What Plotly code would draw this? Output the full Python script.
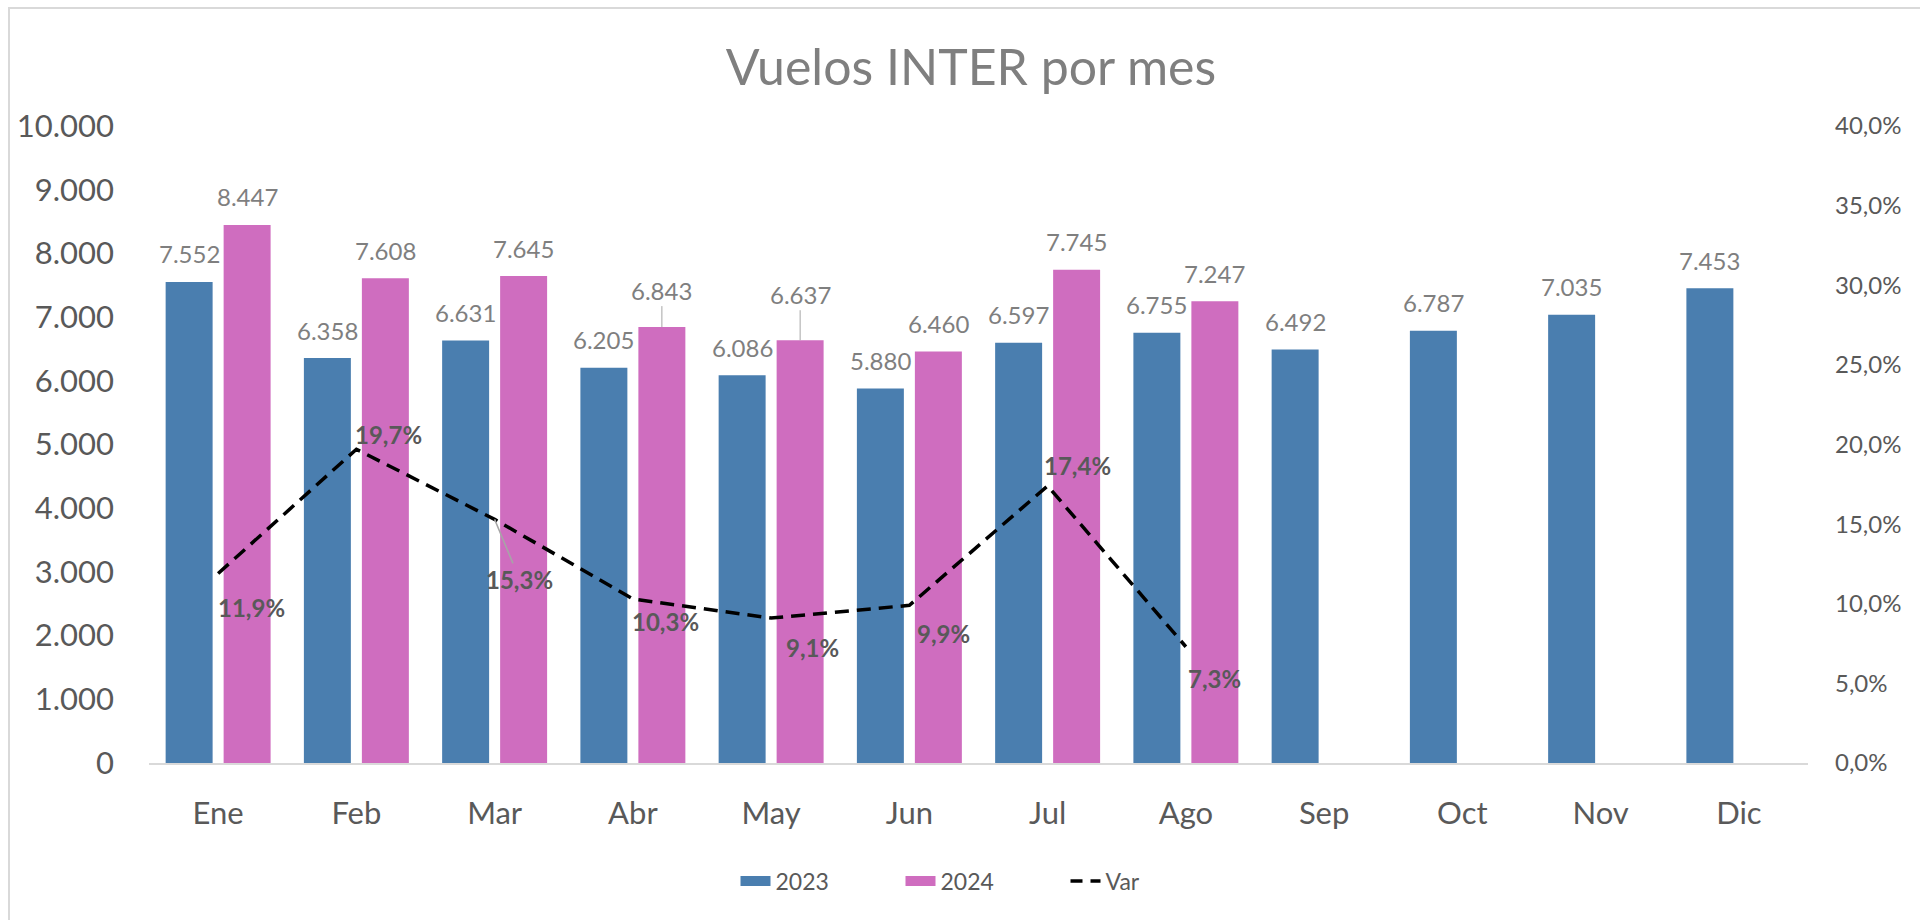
import plotly.graph_objects as go

meses = ["Ene", "Feb", "Mar", "Abr", "May", "Jun", "Jul", "Ago", "Sep", "Oct", "Nov", "Dic"]
v2023 = [7552, 6358, 6631, 6205, 6086, 5880, 6597, 6755, 6492, 6787, 7035, 7453]
v2024 = [8447, 7608, 7645, 6843, 6637, 6460, 7745, 7247]
var = [0.119, 0.197, 0.153, 0.103, 0.091, 0.099, 0.174, 0.073]

BLUE = "#4A7EAF"
PINK = "#CF6DBF"
FONT = "Lato"

# plot-area geometry (pixels)
L, R, T, B = 149, 1808, 126, 763
W, H = 1920, 920

def fmt_int(v):
    return f"{v:,}".replace(",", ".")

def fmt_pct(v):
    return f"{v*100:.1f}%".replace(".", ",")

fig = go.Figure()
fig.add_trace(go.Bar(x=meses, y=v2023, name="2023", showlegend=False,
                     marker=dict(color=BLUE, line=dict(width=0))))
fig.add_trace(go.Bar(x=meses[:len(v2024)], y=v2024, name="2024", showlegend=False,
                     marker=dict(color=PINK, line=dict(width=0))))
fig.add_trace(go.Scatter(x=meses[:len(var)], y=var, name="Var", yaxis="y2", mode="lines",
                         showlegend=False,
                         line=dict(color="black", width=3.5, dash="14px,8px")))
# legend entries (wide swatches like the original)
fig.add_trace(go.Scatter(x=[None], y=[None], name="2023", mode="lines",
                         line=dict(color=BLUE, width=16)))
fig.add_trace(go.Scatter(x=[None], y=[None], name="2024", mode="lines",
                         line=dict(color=PINK, width=16)))
fig.add_trace(go.Scatter(x=[None], y=[None], name="Var", mode="lines",
                         line=dict(color="black", width=3.5, dash="12px,8px")))

ann = []
lbl_font = dict(family=FONT, size=24, color="#7F7F7F")
# bar labels
lead_2024 = {3: -37, 4: -46}
for i, v in enumerate(v2023):
    ann.append(dict(x=meses[i], y=v, xref="x", yref="y", text=fmt_int(v), showarrow=False,
                    xshift=-29, yshift=28, font=lbl_font))
for i, v in enumerate(v2024):
    if i in lead_2024:
        ann.append(dict(x=meses[i], y=v, xref="x", yref="y", text=fmt_int(v), showarrow=True,
                        arrowhead=0, arrowwidth=1, arrowcolor="#A6A6A6", ax=0, ay=lead_2024[i],
                        xshift=29, font=lbl_font))
    else:
        ann.append(dict(x=meses[i], y=v, xref="x", yref="y", text=fmt_int(v), showarrow=False,
                        xshift=29, yshift=28, font=lbl_font))

# line labels (dx, dy-up)
var_off = [(33, -34), (32, 15), None, (33, -23), (41, -29), (34, -28), (30, 20), (29, -32)]
for i, v in enumerate(var):
    f = dict(family=FONT, size=24, color="#595959")
    txt = "<b>" + fmt_pct(v) + "</b>"
    if var_off[i] is None:
        ann.append(dict(x=meses[i], y=v, xref="x", yref="y2", text=txt, showarrow=True,
                        arrowhead=0, arrowwidth=1.5, arrowcolor="#A6A6A6", ax=25, ay=60, font=f))
    else:
        dx, dy = var_off[i]
        ann.append(dict(x=meses[i], y=v, xref="x", yref="y2", text=txt, showarrow=False,
                        xshift=dx, yshift=dy, font=f))

fig.update_layout(
    width=W, height=H,
    autosize=False,
    paper_bgcolor="white", plot_bgcolor="white",
    separators=",.",
    margin=dict(l=L, r=W - R, t=T, b=H - B, pad=0),
    barmode="group", bargap=0.161, bargroupgap=0.19,
    title=dict(text="Vuelos INTER por mes", x=971 / W, xanchor="center", xref="container",
               y=1 - 67 / H, yanchor="middle", yref="container",
               font=dict(family=FONT, size=50, color="#7F7F7F")),
    font=dict(family=FONT, color="#595959"),
    xaxis=dict(showgrid=False, showline=True, linecolor="#D9D9D9", linewidth=2,
               ticks="", tickfont=dict(family=FONT, size=31, color="#595959"),
               ticklabelstandoff=22, zeroline=False),
    yaxis=dict(range=[0, 10000], dtick=1000, tickformat=",d", showgrid=False, zeroline=False,
               showline=False, ticks="", tickfont=dict(family=FONT, size=31, color="#595959"),
               ticklabelstandoff=34),
    yaxis2=dict(range=[0, 0.4], dtick=0.05, tickformat=".1%", overlaying="y", side="right",
                showgrid=False, zeroline=False, showline=False, ticks="",
                tickfont=dict(family=FONT, size=24, color="#595959"), ticklabelstandoff=26),
    legend=dict(orientation="h", xref="container", yref="container", x=983 / W, xanchor="center",
                y=1 - 881 / H, yanchor="middle", font=dict(family=FONT, size=23, color="#595959"),
                entrywidth=120, entrywidthmode="pixels",
                bgcolor="rgba(0,0,0,0)", tracegroupgap=0),
    annotations=ann,
    shapes=[dict(type="rect", xref="paper", yref="paper",
                 x0=(9 - L) / (R - L), x1=(1935 - L) / (R - L),
                 y0=(B - 935) / (B - T), y1=(B - 8) / (B - T),
                 line=dict(color="#D9D9D9", width=2), fillcolor="rgba(0,0,0,0)", layer="below")],
)

fig.write_html("out.html", config={"displayModeBar": False},
               post_script="document.body.style.margin='0';document.body.style.overflow='hidden';")
